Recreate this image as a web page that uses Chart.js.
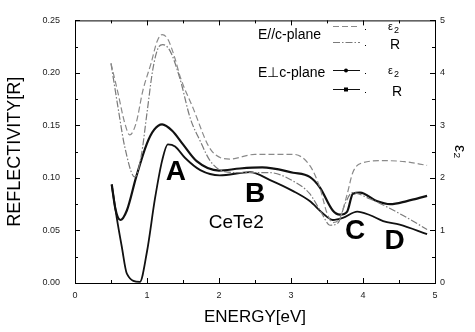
<!DOCTYPE html>
<html>
<head>
<meta charset="utf-8">
<script src="https://cdn.jsdelivr.net/npm/chart.js@4.4.1/dist/chart.umd.min.js"></script>
<style>
  html, body { margin: 0; padding: 0; background: #fff; }
  #wrap { width: 475px; height: 332px; }
</style>
</head>
<body>
<div id="wrap"><canvas id="chart" width="475" height="332"></canvas></div>
<script>
// E//c-plane, eps2 (right axis)
const parEps2E = [0.50, 0.60, 0.69, 0.76, 0.85, 0.94, 1.06, 1.14, 1.21, 1.29, 1.39, 1.46, 1.64, 1.88, 2.15, 2.50, 3.03, 3.26, 3.40, 3.50, 3.58, 3.68, 3.78, 3.86, 4.00, 4.28, 4.58, 4.89];
const parEps2 = [4.18, 3.60, 3.05, 2.82, 3.05, 3.65, 4.20, 4.60, 4.73, 4.64, 4.27, 3.93, 3.33, 2.55, 2.36, 2.45, 2.45, 2.24, 1.82, 1.33, 1.15, 1.24, 1.69, 2.11, 2.29, 2.33, 2.31, 2.24];

// E//c-plane, reflectivity (left axis)
const parRE = [0.50, 0.60, 0.69, 0.83, 0.92, 1.00, 1.08, 1.15, 1.22, 1.32, 1.46, 1.60, 1.74, 1.88, 2.08, 2.36, 2.71, 3.03, 3.26, 3.43, 3.54, 3.65, 3.75, 3.85, 4.10, 4.51, 4.89];
const parR = [0.209, 0.166, 0.130, 0.101, 0.121, 0.162, 0.203, 0.223, 0.227, 0.221, 0.194, 0.157, 0.135, 0.116, 0.106, 0.105, 0.105, 0.097, 0.085, 0.066, 0.055, 0.057, 0.075, 0.086, 0.080, 0.066, 0.051];

// E perp c-plane, eps2 (right axis)
const perEps2E = [0.51, 0.58, 0.65, 0.72, 0.90, 1.00, 1.11, 1.21, 1.29, 1.39, 1.53, 1.74, 2.01, 2.43, 2.71, 3.03, 3.26, 3.44, 3.58, 3.72, 3.92, 4.10, 4.28, 4.51, 4.89];
const perEps2 = [1.87, 1.24, 0.69, 0.18, 0.02, 0.60, 1.60, 2.33, 2.64, 2.60, 2.38, 2.15, 2.05, 2.11, 1.96, 1.75, 1.56, 1.33, 1.20, 1.24, 1.36, 1.29, 1.18, 1.11, 0.93];

// E perp c-plane, reflectivity (left axis)
const perRE = [0.51, 0.56, 0.63, 0.72, 0.85, 1.00, 1.10, 1.21, 1.35, 1.50, 1.69, 2.00, 2.29, 2.60, 3.03, 3.26, 3.40, 3.58, 3.68, 3.78, 3.86, 3.96, 4.19, 4.38, 4.61, 4.89];
const perR = [0.094, 0.071, 0.060, 0.069, 0.101, 0.133, 0.146, 0.151, 0.145, 0.132, 0.116, 0.107, 0.109, 0.110, 0.105, 0.101, 0.091, 0.069, 0.065, 0.068, 0.085, 0.086, 0.078, 0.075, 0.078, 0.083];

// tick labels
const xTicks = [0, 1, 2, 3, 4, 5];
const rTicks = [0.00, 0.05, 0.10, 0.15, 0.20, 0.25];
const eTicks = [0, 1, 2, 3, 4, 5];

// peak labels, in data units (energy, reflectivity)
const peakNames = ["A", "B", "C", "D"];
const peakE = [1.40, 2.50, 3.89, 4.44];
const peakR = [0.105, 0.084, 0.049, 0.040];

const FONT = "'Liberation Sans', Arial, sans-serif";

const pts = (xs, ys) => xs.map((v, i) => ({ x: v, y: ys[i] }));

const series = [
    { label: "E//c ε2", data: pts(parEps2E, parEps2), yAxisID: "y2", borderColor: "#8a8a8a", borderWidth: 1.2, borderDash: [6, 3] },
    { label: "E//c R", data: pts(parRE, parR), yAxisID: "y", borderColor: "#7a7a7a", borderWidth: 1.2, borderDash: [7, 2, 1.5, 2] },
    { label: "E⊥c ε2", data: pts(perEps2E, perEps2), yAxisID: "y2", borderColor: "#111", borderWidth: 1.8 },
    { label: "E⊥c R", data: pts(perRE, perR), yAxisID: "y", borderColor: "#111", borderWidth: 2.2 },
];

// inside ticks, top frame, peak letters and the legend box
const decorations = {
    id: "decorations",
    afterDraw(chart) {
        const { ctx, chartArea: a, scales: { x, y, y2 } } = chart;
        ctx.save();
        ctx.strokeStyle = "#000";
        ctx.lineWidth = 1;
        ctx.beginPath();
        ctx.moveTo(a.left, a.top + 0.5);
        ctx.lineTo(a.right, a.top + 0.5);
        for (let i = 0; i <= 10; i++) {
            const px = Math.round(x.getPixelForValue(i * 0.5)) + 0.5;
            const len = i % 2 === 0 ? 5 : 3;
            ctx.moveTo(px, a.bottom); ctx.lineTo(px, a.bottom - len);
            ctx.moveTo(px, a.top); ctx.lineTo(px, a.top + len);
        }
        for (let i = 0; i <= 10; i++) {
            const py = Math.round(y.getPixelForValue(i * 0.025)) + 0.5;
            const len = i % 2 === 0 ? 5 : 3;
            ctx.moveTo(a.left, py); ctx.lineTo(a.left + len, py);
        }
        for (let i = 0; i <= 10; i++) {
            const py = Math.round(y2.getPixelForValue(i * 0.5)) + 0.5;
            const len = i % 2 === 0 ? 5 : 3;
            ctx.moveTo(a.right, py); ctx.lineTo(a.right - len, py);
        }
        ctx.stroke();

        // peak letters
        ctx.fillStyle = "#000";
        ctx.textAlign = "center";
        ctx.textBaseline = "middle";
        ctx.font = "bold 28px " + FONT;
        peakNames.forEach((n, i) => {
            ctx.fillText(n, x.getPixelForValue(peakE[i]), y.getPixelForValue(peakR[i]));
        });
        ctx.font = "19px " + FONT;
        ctx.fillText("CeTe2", x.getPixelForValue(2.24), y.getPixelForValue(0.057));

        // legend
        ctx.textAlign = "left";
        ctx.font = "14px " + FONT;
        ctx.fillText("E//c-plane", 258, 35);
        ctx.fillText("E⊥c-plane", 258, 73);
        const rows = [
            { ds: series[0], yy: 26, name: "eps", lx: 388, marker: null },
            { ds: series[1], yy: 42, name: "R", lx: 390, marker: null },
            { ds: series[2], yy: 70, name: "eps", lx: 388, marker: "dot" },
            { ds: series[3], yy: 89, name: "R", lx: 392, marker: "square" },
        ];
        rows.forEach(r => {
            ctx.strokeStyle = r.ds.borderColor;
            ctx.lineWidth = 1;
            ctx.setLineDash(r.ds.borderDash || []);
            ctx.beginPath();
            ctx.moveTo(333, r.yy + 0.5);
            ctx.lineTo(360, r.yy + 0.5);
            ctx.stroke();
            ctx.setLineDash([]);
            ctx.fillStyle = "#000";
            if (r.marker === "dot") {
                ctx.beginPath(); ctx.arc(346, r.yy + 0.5, 2, 0, Math.PI * 2); ctx.fill();
            } else if (r.marker === "square") {
                ctx.fillRect(344, r.yy - 1.5, 4, 4);
            }
            ctx.fillRect(365, r.yy + 3, 1, 1);
            if (r.name === "eps") {
                ctx.font = "11px " + FONT;
                ctx.fillText("ε", r.lx, r.yy + 1);
                ctx.font = "9px " + FONT;
                ctx.fillText("2", r.lx + 6, r.yy + 5);
            } else {
                ctx.font = "14px " + FONT;
                ctx.fillText("R", r.lx, r.yy + 3);
            }
        });
        ctx.restore();
    }
};

new Chart(document.getElementById("chart"), {
    type: "line",
    data: {
        datasets: series.map(s => Object.assign({
            fill: false,
            pointRadius: 0,
            cubicInterpolationMode: "monotone",
        }, s)),
    },
    options: {
        responsive: false,
        animation: false,
        events: [],
        layout: { padding: { top: 8 } },
        plugins: { legend: { display: false }, tooltip: { enabled: false } },
        scales: {
            x: {
                type: "linear", min: 0, max: 5,
                afterFit: s => { s.height = 49; },
                afterBuildTicks: s => { s.ticks = xTicks.map(v => ({ value: v })); },
                grid: { display: false, drawTicks: false },
                border: { display: true, color: "#000", width: 1 },
                ticks: { padding: 7, color: "#222", font: { family: FONT, size: 9 } },
                title: { display: true, text: "ENERGY[eV]", color: "#000", padding: { top: 4 }, font: { family: FONT, size: 17 } },
            },
            y: {
                position: "left", min: 0, max: 0.25,
                afterFit: s => { s.width = 75; },
                afterBuildTicks: s => { s.ticks = rTicks.map(v => ({ value: v })); },
                grid: { display: false, drawTicks: false },
                border: { display: true, color: "#000", width: 1 },
                ticks: { padding: 15, color: "#222", font: { family: FONT, size: 9 }, callback: v => v.toFixed(2) },
                title: { display: true, text: "REFLECTIVITY[R]", color: "#000", padding: { bottom: 0 }, font: { family: FONT, size: 18 } },
            },
            y2: {
                position: "right", min: 0, max: 5,
                afterFit: s => { s.width = 40; },
                afterBuildTicks: s => { s.ticks = eTicks.map(v => ({ value: v })); },
                grid: { display: false, drawTicks: false },
                border: { display: true, color: "#000", width: 1 },
                ticks: { padding: 5, color: "#222", font: { family: FONT, size: 9 } },
                title: { display: true, text: "ε₂", color: "#000", padding: { top: 6 }, font: { family: FONT, size: 16 } },
            },
        },
    },
    plugins: [decorations],
});
</script>
</body>
</html>
